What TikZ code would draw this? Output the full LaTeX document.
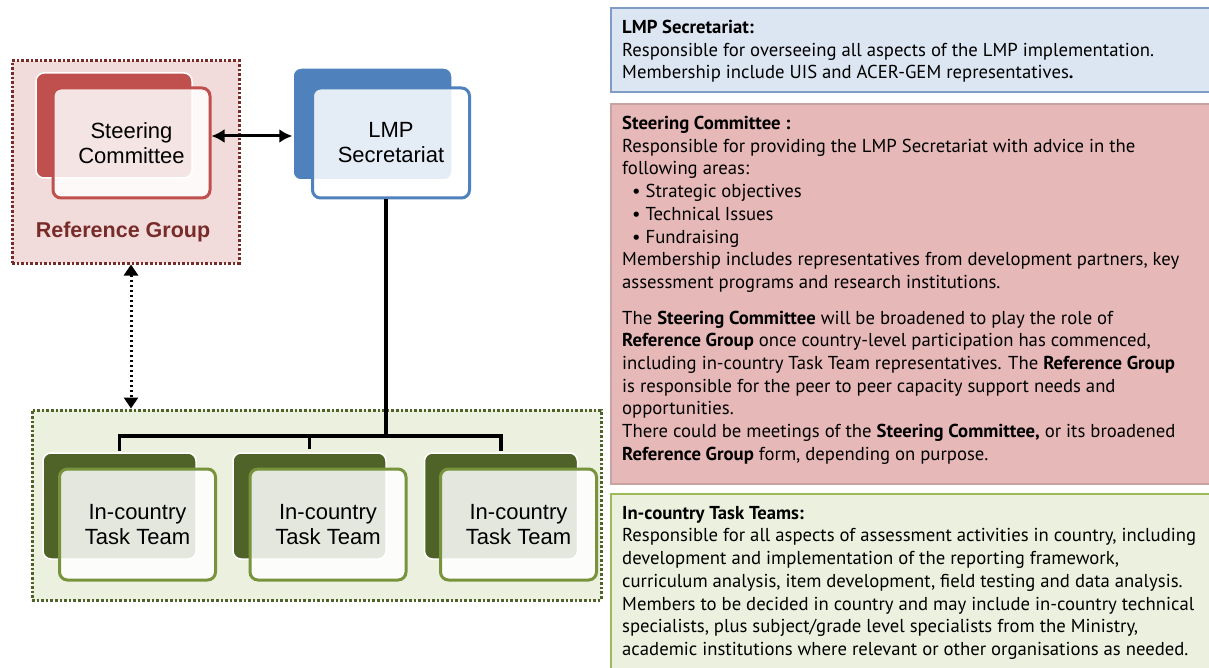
\documentclass[tikz,border=0pt]{standalone}
\usepackage{fontspec}
\setmainfont{Liberation Sans}
\newfontfamily\ptsans{PT Sans}
\usetikzlibrary{arrows.meta}
\definecolor{redback}{HTML}{C0504D}
\definecolor{blueback}{HTML}{4F81BD}
\definecolor{greenback}{HTML}{4F6228}
\definecolor{greenline}{HTML}{77933C}
\definecolor{refdark}{HTML}{772C2A}
\definecolor{reffill}{HTML}{F2DCDB}
\definecolor{grpgreen}{HTML}{EBF1DE}
\definecolor{panelblue}{HTML}{DCE6F2}
\definecolor{panelblueline}{HTML}{7F9CC4}
\definecolor{panelpink}{HTML}{E6B9B8}
\definecolor{panelpinkline}{HTML}{C9A3A2}
\definecolor{panelgreen}{HTML}{EBF1DE}
\definecolor{panelgreenline}{HTML}{9BBB59}
\tikzset{
  backbox/.style={rounded corners=8pt, draw=white, line width=1.5pt, minimum width=#1, inner sep=0pt},
  frontbox/.style={rounded corners=8pt, line width=3pt, fill=white, fill opacity=0.85, text opacity=1,
     minimum width=157pt, minimum height=110pt, align=center, inner sep=0pt,
     font=\fontsize{22}{25}\selectfont},
  grpbox/.style={line width=3pt, dash pattern=on 2.6pt off 2pt, inner sep=0pt},
  panel/.style={line width=1.5pt, inner sep=0pt},
  paneltext/.style={anchor=north west, align=left, inner sep=0pt, font=\ptsans\fontsize{18.7}{22.7}\selectfont},
  conn/.style={line width=3.5pt},
}
\begin{document}
\begin{tikzpicture}[x=1pt,y=-1pt]
\useasboundingbox (0,0) rectangle (1209,668);
\fill[white] (0,0) rectangle (1209,668);

% group boxes
\node[grpbox, draw=refdark, fill=reffill, minimum width=227pt, minimum height=202pt] (rg) at (125.5,162) {};
\node[grpbox, draw=greenback, fill=grpgreen, minimum width=569pt, minimum height=190pt] (gg) at (316.5,505) {};

% steering committee
\node[backbox=156pt, fill=redback, minimum height=105pt] (scb) at (114,125.5) {};
\node[frontbox, draw=redback] (scf) at (131.5,143) {Steering\\Committee};
\node[font=\bfseries\fontsize{21.5}{24}\selectfont, text=refdark] (rgt) at (123,232) {Reference Group};

% LMP
\node[backbox=159pt, fill=blueback, minimum height=112pt] (lmpb) at (372.5,124) {};
\node[frontbox, draw=blueback] (lmpf) at (391,143) {LMP\\Secretariat};

% task teams
\foreach \i/\bx/\fx in {1/119.5/137.5, 2/309.5/328, 3/501/518.5}{
  \node[backbox=153pt, fill=greenback, minimum height=106pt] (tb\i) at (\bx,506) {};
  \node[frontbox, draw=greenline, minimum width=156pt, minimum height=111pt] (tf\i) at (\fx,524.5) {In-country\\Task Team};
}

% connectors
\coordinate (hub) at (386,436);
\draw[conn] (lmpf.south -| hub) -- (hub);
\draw[conn, line cap=rect] ([yshift=3pt]tb1.north) |- (hub) -| ([yshift=3pt]tb3.north);
\draw[conn] ([yshift=3pt]tb2.north) -- (tb2.north |- hub);
\draw[line width=3pt, {Latex[length=13pt,width=14pt]}-{Latex[length=13pt,width=14pt]}]
  ([yshift=7pt]scf.east) -- ([yshift=7pt]scf.east -| lmpb.west);
\draw[line width=3pt, dash pattern=on 2.5pt off 2.5pt, {Triangle[length=11pt,width=14pt]}-{Triangle[length=11pt,width=14pt]}]
  ([xshift=5.5pt]rg.south) -- ([xshift=5.5pt]rg.south |- gg.north);

% right panels
\draw[panel, draw=panelblueline, fill=panelblue] (611,8) rectangle (1215,92);
\draw[panel, draw=panelpinkline, fill=panelpink] (611,104) rectangle (1215,484);
\draw[panel, draw=panelgreenline, fill=panelgreen] (611,494) rectangle (1215,675);

\node[paneltext] (t1) at (622,20) {\textbf{LMP Secretariat:}\\
Responsible for overseeing all aspects of the LMP implementation.\\
Membership include UIS and ACER-GEM representatives\textbf{.}};

\node[paneltext] (t2) at (622,116) {\textbf{Steering Committee :}\\
Responsible for providing the LMP Secretariat with advice in the\\
following areas:\\
\hspace*{10pt}\textbullet\ Strategic objectives\\
\hspace*{10pt}\textbullet\ Technical Issues\\
\hspace*{10pt}\textbullet\ Fundraising\\
Membership includes representatives from development partners, key\\
assessment programs and research institutions.\\[13pt]
The \textbf{Steering Committee} will be broadened to play the role of\\
\textbf{Reference Group} once country-level participation has commenced,\\
including in-country Task Team representatives. The \textbf{Reference Group}\\
is responsible for the peer to peer capacity support needs and\\
opportunities.\\
There could be meetings of the \textbf{Steering Committee,} or its broadened\\
\textbf{Reference Group} form, depending on purpose.};

\node[paneltext] (t3) at (622,506) {\textbf{In-country Task Teams:}\\
Responsible for all aspects of assessment activities in country, including\\
development and implementation of the reporting framework,\\
curriculum analysis, item development, field testing and data analysis.\\
Members to be decided in country and may include in-country technical\\
specialists, plus subject/grade level specialists from the Ministry,\\
academic institutions where relevant or other organisations as needed.};
\end{tikzpicture}
\end{document}
